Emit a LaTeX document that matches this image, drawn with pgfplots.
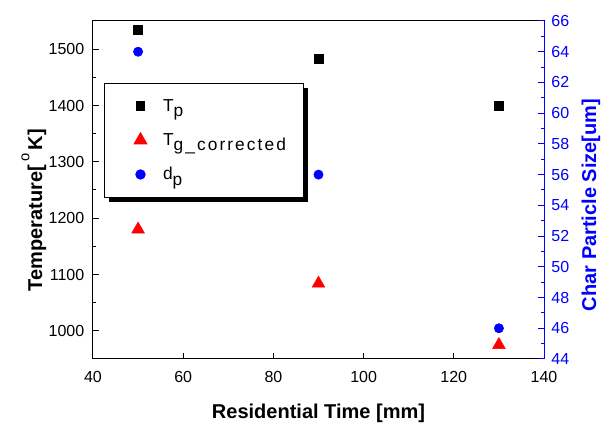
\documentclass[border=0pt]{standalone}
\usepackage{pgfplots}
\pgfplotsset{compat=1.18}
\usepackage{fontspec}
\setmainfont{Liberation Sans}
\newfontfamily\legfont[LetterSpace=12]{Liberation Sans}
\usetikzlibrary{shadows}

\begin{document}
\begin{tikzpicture}
\begin{axis}[
    scale only axis,
    width=338.25pt, height=253.5pt,
    xmin=40, xmax=140,
    ymin=950, ymax=1550,
    xtick={40,60,...,140},
    ytick={1000,1100,...,1500},
    minor x tick num=0,
    minor y tick num=1,
    tick pos=left,
    tick align=inside,
    major tick length=4.5pt,
    minor tick length=2.5pt,
    every tick/.style={black, line width=0.75pt},
    axis line style={line width=0.75pt},
    /pgf/number format/assume math mode=true,
    /pgf/number format/1000 sep={},
    ticklabel style={font=\fontsize{12}{14}\selectfont},
    xticklabel style={yshift=-6pt},
    yticklabel style={xshift=-3pt},
    xlabel={Residential Time [mm]},
    ylabel={Temperature[\,\raisebox{1.2ex}{\fontsize{11}{12}\selectfont\mdseries o}\,K]},
    label style={font=\fontsize{15}{17}\selectfont\bfseries},
    xlabel style={at={(axis description cs:0.5,-0.16)}, anchor=center},
    ylabel style={at={(axis description cs:-0.131,0.44)}, anchor=center},
    legend style={
        at={(axis description cs:0.024,0.817)}, anchor=north west,
        draw=black, line width=0.75pt, fill=white,
        font=\fontsize{13}{15}\selectfont\legfont,
        inner xsep=4pt, inner ysep=10pt,
        row sep=11pt,
        drop shadow={shadow xshift=3.5pt, shadow yshift=-3.5pt, fill=black, opacity=1},
    },
    legend cell align=left,
    legend image code/.code={\path (0,0) (1.1cm,0); \draw[#1] plot coordinates {(0.8cm,0cm)};},
]
\addplot[only marks, mark=square*, mark size=3.3pt, color=black] coordinates {
    (50,1535) (90,1483) (130,1400)
};
\addlegendentry{\hspace{6pt}T\raisebox{-0.6ex}{p}}
\addplot[only marks, mark=triangle*, mark size=5.5pt, color=red] coordinates {
    (50,1180) (90,1084) (130,975)
};
\addlegendentry{\hspace{6pt}T\raisebox{-0.6ex}{g\_corrected}\rule{7pt}{0pt}}
\addlegendimage{only marks, mark=*, mark size=3.5pt, color=blue}
\addlegendentry{\hspace{6pt}d\raisebox{-0.6ex}{p}}
\end{axis}

\begin{axis}[
    scale only axis,
    width=338.25pt, height=253.5pt,
    xmin=40, xmax=140,
    ymin=44, ymax=66,
    ytick={44,46,...,66},
    minor y tick num=1,
    axis x line=none,
    axis y line*=right,
    tick align=inside,
    major tick length=4.5pt,
    minor tick length=2.5pt,
    every tick/.style={blue, line width=0.75pt},
    axis line style={blue, line width=0.75pt, -},
    /pgf/number format/assume math mode=true,
    yticklabel style={font=\fontsize{12}{14}\selectfont, text=blue, xshift=2pt},
    ylabel={Char Particle Size[um]},
    ylabel style={font=\fontsize{15}{17}\selectfont\bfseries, text=blue,
        at={(axis description cs:1.104,0.456)}, anchor=center, rotate=0},
]
\addplot[only marks, mark=*, mark size=3.5pt, color=blue] coordinates {
    (50,64) (90,56) (130,46)
};
\coordinate (bbsw) at (rel axis cs:-0.2062,-0.1982);
\coordinate (bbne) at (rel axis cs:1.1530,1.0621);
\end{axis}
\pgfresetboundingbox
\useasboundingbox (bbsw) rectangle (bbne);
\end{tikzpicture}
\end{document}
